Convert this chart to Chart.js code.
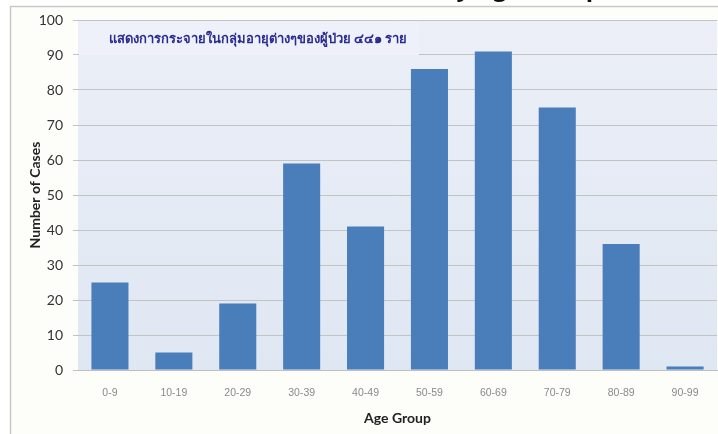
<!DOCTYPE html>
<html>
<head>
<meta charset="utf-8">
<script src="https://cdn.jsdelivr.net/npm/chart.js@4"></script>
<style>
  html, body { margin: 0; padding: 0; background: #fff; }
  #wrap { width: 718px; height: 434px; }
</style>
</head>
<body>
<div id="wrap"><canvas id="age-chart" width="718" height="434"></canvas></div>
<script>
// values
const ageGroups = ["0-9", "10-19", "20-29", "30-39", "40-49", "50-59", "60-69", "70-79", "80-89", "90-99"];
const caseCounts = [25, 5, 19, 59, 41, 86, 91, 75, 36, 1];
const yMin = 0;
const yMax = 100;
const yStep = 10;
const noteText = "แสดงการกระจายในกลุ่มอายุต่างๆของผู้ป่วย ๔๔๑ ราย";
const titleFaded = "Number of Patients";
const titleDark = "by Age Group (21/3/63)";

Chart.defaults.font.family = "Lato, 'Open Sans', sans-serif";

// white page, grey frame, light blue plot background
const backdrop = {
  id: "backdrop",
  beforeDraw(chart) {
    const ctx = chart.ctx;
    const a = chart.chartArea;
    ctx.save();
    ctx.fillStyle = "#ffffff";
    ctx.fillRect(0, 0, chart.width, chart.height);
    ctx.fillStyle = "#fdfdf9";
    ctx.fillRect(11, 7, chart.width, chart.height);
    ctx.strokeStyle = "#c9c9c9";
    ctx.lineWidth = 1.5;
    ctx.strokeRect(10.5, 6.5, chart.width + 20, chart.height + 20);
    const g = ctx.createLinearGradient(0, a.top, 0, a.bottom);
    g.addColorStop(0, "#eceff8");
    g.addColorStop(1, "#dfe7f2");
    ctx.fillStyle = g;
    ctx.fillRect(a.left, a.top, a.right - a.left, a.bottom - a.top);
    ctx.restore();
  }
};

// the text box with the Thai note
const noteBox = {
  id: "noteBox",
  beforeDatasetsDraw(chart) {
    const ctx = chart.ctx;
    const a = chart.chartArea;
    ctx.save();
    ctx.fillStyle = "#eef0fa";
    ctx.fillRect(a.left + 1, a.top + 1, 340, 34);
    ctx.fillStyle = "#2a2b8f";
    ctx.font = "bold 13px 'Noto Sans', 'DejaVu Sans', sans-serif";
    ctx.textAlign = "center";
    ctx.textBaseline = "middle";
    ctx.fillText(noteText, 258, 39);
    ctx.restore();
  }
};

// title cut off at the top of the picture
const cutTitle = {
  id: "cutTitle",
  afterDraw(chart) {
    const ctx = chart.ctx;
    ctx.save();
    ctx.font = "bold 24px 'Open Sans', sans-serif";
    ctx.textBaseline = "alphabetic";
    ctx.textAlign = "right";
    ctx.fillStyle = "#111";
    ctx.fillText(titleDark, 712, -4);
    const w = ctx.measureText(titleDark).width;
    ctx.fillStyle = "#dcdcdc";
    ctx.fillText(titleFaded, 712 - w - 8, -4);
    ctx.restore();
  }
};

const ctx = document.getElementById("age-chart").getContext("2d");
new Chart(ctx, {
  type: "bar",
  data: {
    labels: ageGroups,
    datasets: [
      {
        label: "Number of Cases",
        data: caseCounts,
        backgroundColor: "#4a7ebb",
        borderWidth: 0,
        barPercentage: 1,
        categoryPercentage: 0.58
      }
    ]
  },
  options: {
    responsive: false,
    animation: false,
    layout: { padding: { top: 20, right: 1, left: 27, bottom: 7 } },
    plugins: {
      legend: { display: false },
      tooltip: { enabled: false }
    },
    scales: {
      x: {
        grid: { display: false },
        border: { color: "#bfbfbf" },
        ticks: { color: "#8a8a8a", font: { family: "'Liberation Sans', Arial, sans-serif", size: 10.5 }, padding: 9, maxRotation: 0 },
        title: { display: true, text: "Age Group", color: "#222", font: { size: 14, weight: "bold" }, padding: 0 },
        afterFit(scale) { scale.height = 57; }
      },
      y: {
        min: yMin,
        max: yMax,
        ticks: { stepSize: yStep, color: "#333", font: { size: 14 }, padding: 10 },
        grid: { color: "#c3c3c3", tickLength: 5 },
        border: { display: false },
        title: { display: true, text: "Number of Cases", color: "#222", font: { size: 14, weight: "bold" }, padding: 0 },
        afterFit(scale) { scale.width = 51; }
      }
    }
  },
  plugins: [backdrop, noteBox, cutTitle]
});
</script>
</body>
</html>
